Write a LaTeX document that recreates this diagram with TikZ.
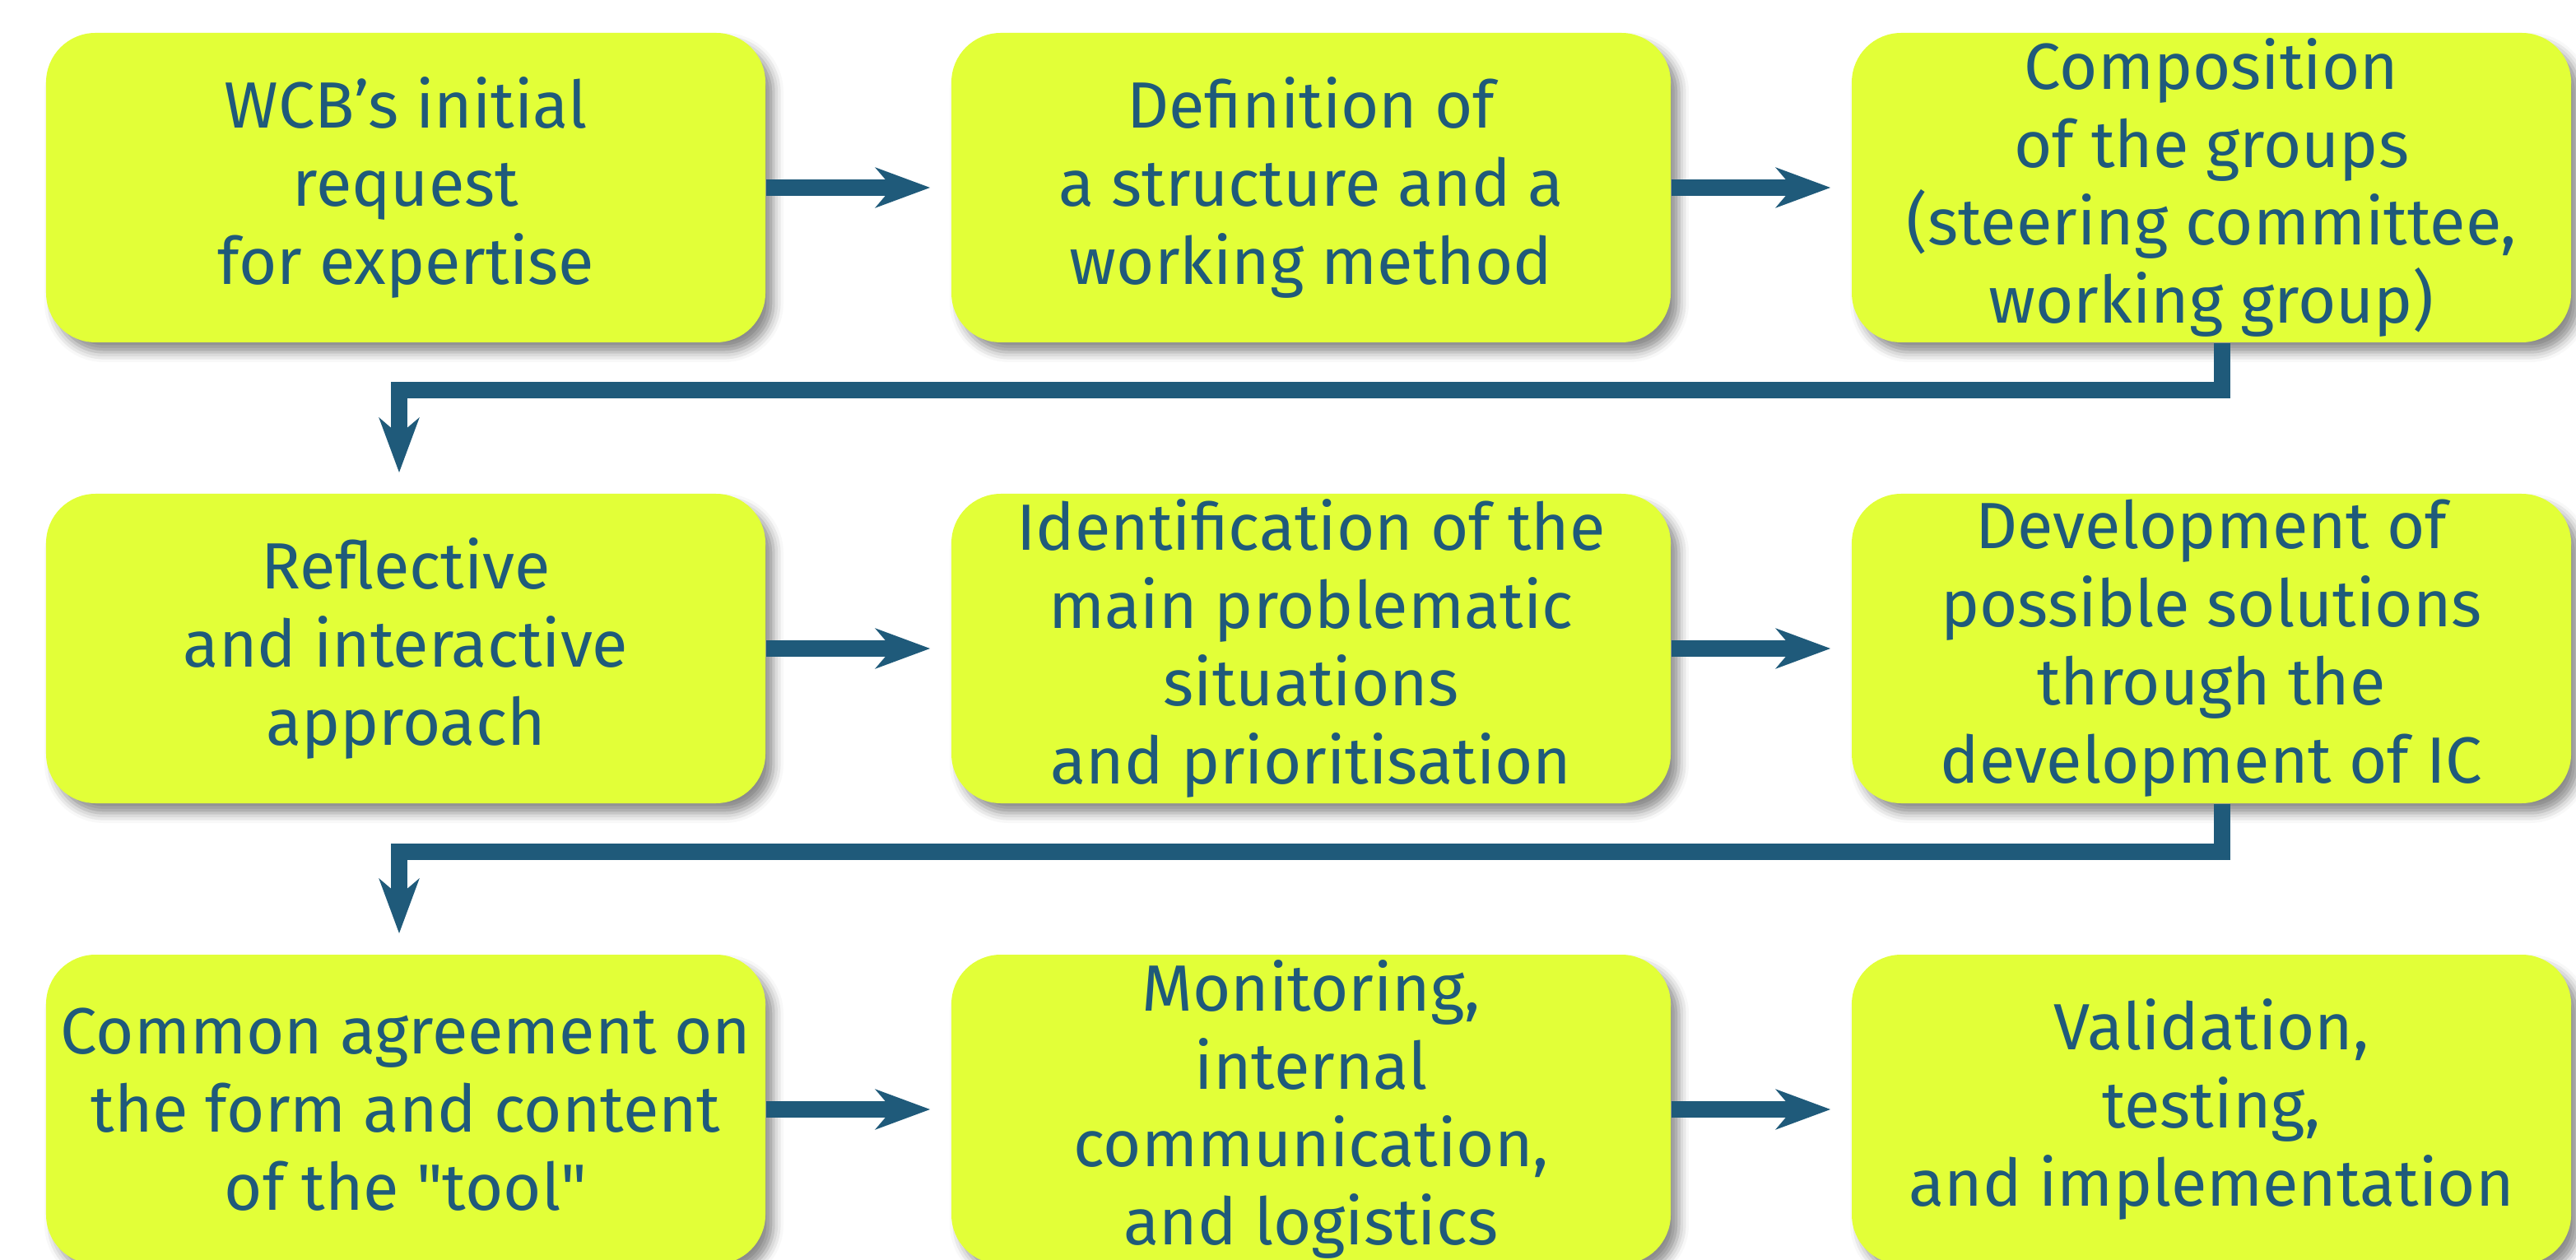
\documentclass[tikz,border=0pt]{standalone}
\usepackage{fontspec}
\setmainfont{Fira Sans}
\usepackage{xcolor}
\usepackage{tikz}
\usetikzlibrary{arrows.meta, positioning, shadows.blur}
\definecolor{stagecolor}{RGB}{226,255,56}
\definecolor{flowcolor}{RGB}{31,90,122}

\begin{document}
\begin{tikzpicture}[
    stage/.style={fill=stagecolor, minimum width=8.74cm, minimum height=3.76cm, rounded corners=0.6cm, text=flowcolor, align=center, inner sep=0pt, font=\fontsize{22.6}{27}\selectfont, blur shadow={shadow xshift=0.1cm, shadow yshift=-0.12cm, shadow blur radius=0.12cm, shadow opacity=45}},
    flow/.style={draw=flowcolor, line width=0.2cm, -{Stealth[length=0.66cm, width=0.48cm, inset=0.2cm]}, shorten >=0.25cm}
]
    \useasboundingbox (0,0) rectangle (31.3,-15.31);

    % First row
    \node[stage] (req) at (4.93,-2.28) {WCB’s initial\\request\\for expertise};
    \node[stage] (struct) at (15.93,-2.28) {Definition of\\a structure and a\\working method};
    \node[stage] (groups) at (26.87,-2.28) {Composition\\of the groups\\(steering committee,\\working group)};

    % Second row
    \node[stage] (approach) at (4.93,-7.88) {Reflective\\and interactive\\approach};
    \node[stage] (ident) at (15.93,-7.88) {Identification of the\\main problematic\\situations\\and prioritisation};
    \node[stage] (solutions) at (26.87,-7.88) {Development of\\possible solutions\\through the\\development of IC};

    % Third row
    \node[stage] (agree) at (4.93,-13.48) {Common agreement on\\the form and content\\of the \textquotedbl tool\textquotedbl};
    \node[stage] (monit) at (15.93,-13.48) {Monitoring,\\internal\\communication,\\and logistics};
    \node[stage] (valid) at (26.87,-13.48) {Validation,\\testing,\\and implementation};

    % Arrows along each row
    \draw[flow] (req) -- (struct);
    \draw[flow] (struct) -- (groups);
    \draw[flow] (approach) -- (ident);
    \draw[flow] (ident) -- (solutions);
    \draw[flow] (agree) -- (monit);
    \draw[flow] (monit) -- (valid);

    % Wrapping down to the next row
    \draw[flow] ([xshift=1.3mm]groups.south) -- ++(0,-0.57) -| ([xshift=-0.8mm]approach.north);
    \draw[flow] ([xshift=1.3mm]solutions.south) -- ++(0,-0.58) -| ([xshift=-0.8mm]agree.north);
\end{tikzpicture}
\end{document}
